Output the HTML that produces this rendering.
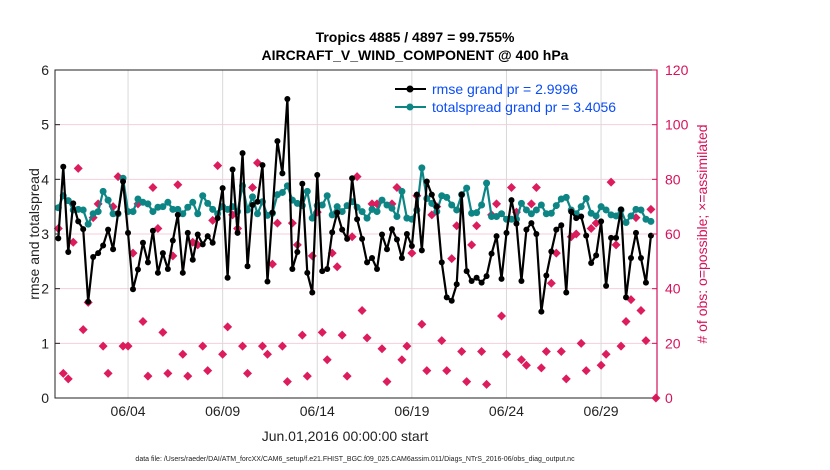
<!DOCTYPE html>
<html><head><meta charset="utf-8">
<style>
body{margin:0;background:#fff;}
svg{display:block;font-family:"Liberation Sans",sans-serif;}
</style></head>
<body>
<svg id="chart" width="830" height="470" viewBox="0 0 830 470">
<text x="415" y="42" text-anchor="middle" font-size="14" font-weight="bold">Tropics 4885 / 4897 = 99.755%</text>
<text x="415" y="60" text-anchor="middle" font-size="14" font-weight="bold">AIRCRAFT_V_WIND_COMPONENT @ 400 hPa</text>
<g id="grid"></g>
<g id="marks"></g>
<rect x="55" y="70" width="602" height="328" fill="none" stroke="#222" stroke-width="1"/>
<line x1="657" y1="70" x2="657" y2="398" stroke="#d6125a" stroke-width="1.2"/>
<g id="axes"></g>
<text transform="translate(39,234) rotate(-90)" text-anchor="middle" font-size="14" fill="#222">rmse and totalspread</text>
<text transform="translate(707,234) rotate(-90)" text-anchor="middle" font-size="14" fill="#d6125a"># of obs: o=possible; ×=assimilated</text>
<text x="345" y="441" text-anchor="middle" font-size="14" fill="#222">Jun.01,2016 00:00:00 start</text>
<text x="355" y="461" text-anchor="middle" font-size="7" fill="#222">data file: /Users/raeder/DAI/ATM_forcXX/CAM6_setup/f.e21.FHIST_BGC.f09_025.CAM6assim.011/Diags_NTrS_2016-06/obs_diag_output.nc</text>
<g>
<line x1="395" y1="89" x2="426" y2="89" stroke="#000" stroke-width="2"/>
<circle cx="410" cy="89" r="3.5" fill="#000"/>
<text x="432" y="94" font-size="14" fill="#0a4cf5">rmse grand pr = 2.9996</text>
<line x1="395" y1="107" x2="426" y2="107" stroke="#0e8585" stroke-width="2"/>
<circle cx="410" cy="107" r="3.5" fill="#0e8585"/>
<text x="432" y="112" font-size="14" fill="#0a4cf5">totalspread grand pr = 3.4056</text>
</g>
</svg>
<script>
const leftTicks=[0,1,2,3,4,5,6];
const rightTicks=[0,20,40,60,80,100,120];
const dateTickDays=[3,8,13,18,23,28];
const dateTickLabels=["06/04","06/09","06/14","06/19","06/24","06/29"];
const rmse=[2.92,4.23,2.67,3.56,3.23,3.09,1.76,2.58,2.65,2.79,3.08,2.72,3.38,3.96,3.02,1.99,2.35,2.84,2.48,3.06,2.29,2.65,2.36,2.88,3.35,2.29,3.02,2.53,2.99,2.81,
2.96,2.84,3.29,3.84,2.2,4.18,3.02,4.48,2.41,3.53,3.59,4.26,2.13,3.39,4.70,4.11,5.47,2.36,2.67,3.92,2.29,1.93,4.08,2.32,2.36,3.03,3.39,3.08,2.91,4.02,
3.27,2.91,2.48,2.56,2.36,2.99,2.72,3.09,2.9,2.56,3.0,2.78,3.72,2.70,3.96,3.72,3.50,2.48,1.84,1.78,2.08,3.72,2.32,2.14,2.2,2.11,2.23,2.64,2.96,2.18,
3.02,3.62,3.19,2.14,3.08,3.2,3.0,1.58,2.24,2.68,3.08,3.16,1.93,3.41,3.29,3.32,2.97,2.47,2.61,3.23,2.05,2.93,2.93,3.45,1.84,2.56,3.02,2.56,2.11,2.97];
const spread=[3.48,3.70,3.61,3.44,3.45,3.44,3.18,3.37,3.41,3.78,3.62,3.37,3.37,4.02,3.41,3.41,3.64,3.58,3.55,3.41,3.49,3.50,3.58,3.45,3.45,3.37,3.49,3.58,3.37,3.70,
3.56,3.45,3.37,3.50,3.45,3.50,3.41,3.88,3.44,3.68,3.37,3.59,3.34,3.38,3.72,3.76,3.88,3.62,3.56,3.52,3.78,3.29,3.52,3.53,3.70,3.35,3.50,3.41,3.52,3.59,
3.49,3.41,3.29,3.45,3.41,3.62,3.53,3.47,3.32,3.78,3.29,3.27,3.44,4.21,3.65,3.56,3.41,3.70,3.67,3.53,3.44,3.72,3.84,3.38,3.39,3.53,3.93,3.32,3.32,3.37,
3.27,3.27,3.27,3.56,3.44,3.37,3.44,3.53,3.37,3.38,3.52,3.64,3.67,3.44,3.37,3.50,3.65,3.38,3.33,3.50,3.44,3.35,3.33,3.44,3.21,3.33,3.45,3.44,3.27,3.23];
const obsCount=[62,9,7,57,84,25,35,66,71,19,9,70,81,19,19,53,71,28,8,77,62,24,9,52,78,16,8,57,56,19,
10,65,85,16,26,67,62,19,9,77,86,19,16,49,64,19,6,64,56,23,8,52,68,24,14,53,48,23,8,59,
81,32,22,71,71,18,6,71,77,14,19,53,74,27,10,67,70,21,10,51,63,17,6,56,63,17,5,67,71,30,
16,77,68,14,12,71,77,11,17,42,53,17,7,59,60,20,10,62,64,12,16,79,56,19,28,36,66,32,21,69,0];
const NS="http://www.w3.org/2000/svg";
const X0=58.3, DX=4.98, DAY0X=71.3, PXDAY=18.92;
function xIdx(i){return X0+i*DX;}
function xDay(d){return DAY0X+d*PXDAY;}
function yL(v){return 398-v*(328/6);}
function yR(v){return 398-v*(328/120);}
function mk(tag,attrs,parent){const e=document.createElementNS(NS,tag);for(const k in attrs)e.setAttribute(k,attrs[k]);parent.appendChild(e);return e;}
const grid=document.getElementById('grid'),marks=document.getElementById('marks'),axes=document.getElementById('axes');
leftTicks.forEach(t=>{
  if(t>0&&t<6){const g=mk('line',{x1:55,x2:657,y1:yL(t),y2:yL(t),stroke:'#f4cfdc','stroke-width':1},grid);
  
  }
  const tk=mk('line',{x1:55,x2:60,y1:yL(t),y2:yL(t),stroke:'#222'},axes);
  
  
  const l=mk('text',{x:49,y:yL(t)+5,'text-anchor':'end','font-size':14,fill:'#222'},axes);l.textContent=t;
  
  
});
rightTicks.forEach(t=>{
  const tk=mk('line',{x1:652,x2:657,y1:yR(t),y2:yR(t),stroke:'#d6125a'},axes);
  
  
  const l=mk('text',{x:665,y:yR(t)+5,'font-size':14,fill:'#d6125a'},axes);l.textContent=t;
  
  
});
dateTickDays.forEach((d,k)=>{
  const g=mk('line',{x1:xDay(d),x2:xDay(d),y1:70,y2:398,stroke:'#d9d9d9','stroke-width':1},grid);
  
  
  const l=mk('text',{x:xDay(d),y:416,'text-anchor':'middle','font-size':14,fill:'#222'},axes);l.textContent=dateTickLabels[k];
  
  
});
obsCount.forEach((v,i)=>{
  const x=xIdx(i),y=yR(v);
  const p=mk('path',{d:`M${x} ${y-4.5}L${x+4.5} ${y}L${x} ${y+4.5}L${x-4.5} ${y}Z`,fill:'#dc1c5c'},marks);
  
  
});
function series(vals,color,r,name){
  const pl=mk('polyline',{points:vals.map((v,i)=>xIdx(i)+','+yL(v)).join(' '),fill:'none',stroke:color,'stroke-width':2.2,'stroke-linejoin':'round'},marks);
  
  
  vals.forEach((v,i)=>{const c=mk('circle',{cx:xIdx(i),cy:yL(v),r:r,fill:color},marks);
  
  });
}
series(spread,'#0e8585',3.5,'totalspread');
series(rmse,'#000',3,'rmse');
</script>
</body></html>
